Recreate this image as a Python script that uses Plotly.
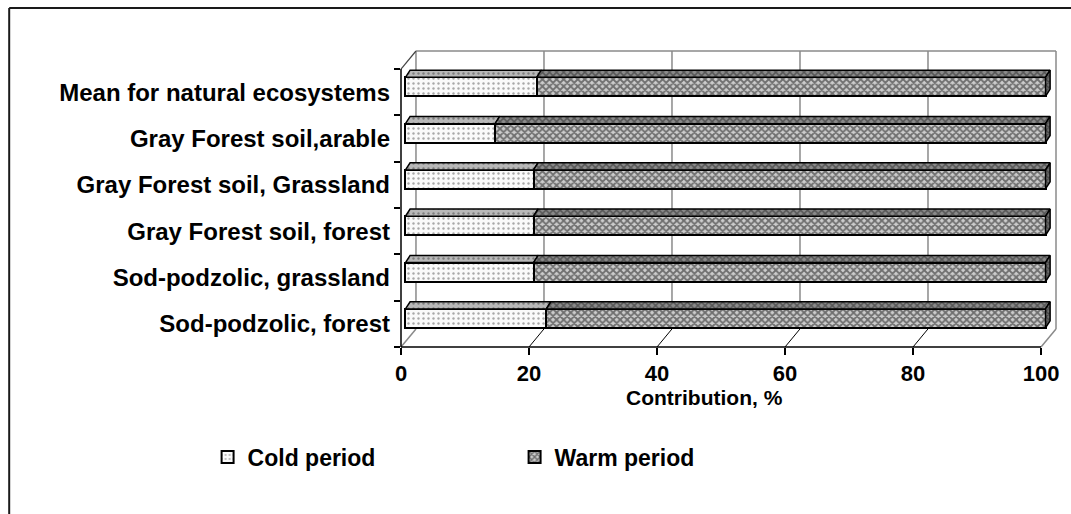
import plotly.graph_objects as go

# data, bottom row first
categories = [
    "Sod-podzolic, forest",
    "Sod-podzolic, grassland",
    "Gray Forest soil, forest",
    "Gray Forest soil, Grassland",
    "Gray Forest soil,arable",
    "Mean for natural ecosystems",
]
cold_period = [22, 20, 20, 20, 14, 20.5]
warm_period = [78, 80, 80, 80, 86, 79.5]
x_ticks = [0, 20, 40, 60, 80, 100]

# fake 3-D geometry, in data units (x: percent, y: category rows)
DEPTH_X, DEPTH_Y = 2.34, 0.39      # depth of the floor / walls
BAR_FRONT = 0.3                    # share of the depth in front of the bars
BAR_DX, BAR_DY = 0.72, 0.155       # depth of the bars themselves
BAR_W = 0.41
X_MAX = 100

fx, fy = -BAR_FRONT * DEPTH_X, -BAR_FRONT * DEPTH_Y            # front plane shift
bx, by = (1 - BAR_FRONT) * DEPTH_X, (1 - BAR_FRONT) * DEPTH_Y  # back plane shift

rows = list(range(len(categories)))
y_lo, y_hi = -0.5, len(categories) - 0.5
x_range = [0 + fx, X_MAX + bx]
y_range = [y_lo + fy, y_hi + by]

W, H = 1071, 514
ML, MT, PW, PH = 401, 51, 657, 296
MR, MB = W - ML - PW, H - MT - PH


def sx(p):  # figure pixel -> paper x
    return (p - ML) / PW


def sy(p):  # figure pixel -> paper y
    return (MT + PH - p) / PH


cold_front = dict(shape=".", fgcolor="#555555", bgcolor="#fafafa", size=5, solidity=0.18)
warm_front = dict(shape="x", fgcolor="#111111", bgcolor="#cccccc", size=5, solidity=0.6)
cold_top = dict(shape=".", fgcolor="#444444", bgcolor="#b8b8b8", size=5, solidity=0.18)
warm_top = dict(shape="x", fgcolor="#222222", bgcolor="#8a8a8a", size=5, solidity=0.5)
warm_side = dict(shape="x", fgcolor="#111111", bgcolor="#6e6e6e", size=4, solidity=0.5)

fig = go.Figure()

fig.add_trace(go.Bar(
    y=rows, x=cold_period, orientation="h", name="Cold period", width=BAR_W,
    marker=dict(color="#fafafa", pattern=cold_front, line=dict(color="black", width=2)),
))
fig.add_trace(go.Bar(
    y=rows, x=warm_period, base=cold_period, orientation="h", name="Warm period", width=BAR_W,
    marker=dict(color="#cccccc", pattern=warm_front, line=dict(color="black", width=2)),
))


def faces(x0s, x1s, side=False):
    xs, ys = [], []
    for r, a, b in zip(rows, x0s, x1s):
        top, bot = r + BAR_W / 2, r - BAR_W / 2
        if side:
            xs += [b, b, b + BAR_DX, b + BAR_DX, b, None]
            ys += [bot, top, top + BAR_DY, bot + BAR_DY, bot, None]
        else:
            xs += [a, b, b + BAR_DX, a + BAR_DX, a, None]
            ys += [top, top, top + BAR_DY, top + BAR_DY, top, None]
    return xs, ys


ends = [c + w for c, w in zip(cold_period, warm_period)]
for (xs, ys), pat in [
    (faces([0] * len(rows), cold_period), cold_top),
    (faces(cold_period, ends), warm_top),
    (faces(cold_period, ends, side=True), warm_side),
]:
    fig.add_trace(go.Scatter(
        x=xs, y=ys, mode="lines", fill="toself", fillcolor=pat["bgcolor"], fillpattern=pat,
        line=dict(color="black", width=1.5), showlegend=False, hoverinfo="skip",
    ))


# walls and floor as unclipped paper shapes
def px(x):
    return (x - x_range[0]) / (x_range[1] - x_range[0])


def py(y):
    return (y - y_range[0]) / (y_range[1] - y_range[0])


def seg(x0, y0, x1, y1, color, width, layer="below"):
    fig.add_shape(type="line", xref="paper", yref="paper", layer=layer,
                  x0=x0, y0=y0, x1=x1, y1=y1, line=dict(color=color, width=width))


def dseg(x0, y0, x1, y1, color, width):
    seg(px(x0), py(y0), px(x1), py(y1), color, width)


grey = "#8a8a8a"
for v in x_ticks:
    dseg(v + bx, y_lo + by, v + bx, y_hi + by, grey, 1.5)          # back wall grid
    edge = v in (x_ticks[0], x_ticks[-1])
    dseg(v + fx, y_lo + fy, v + bx, y_lo + by, grey if edge else "black", 1.5 if edge else 1)
dseg(0 + bx, y_hi + by, X_MAX + bx, y_hi + by, grey, 1.5)           # top of back wall
dseg(0 + fx, y_hi + fy, 0 + bx, y_hi + by, "#444444", 1.2)           # top of left wall
dseg(0 + fx, y_lo + fy, 0 + fx, y_hi + fy, "black", 1.5)             # value axis line (left)
dseg(0 + fx, y_lo + fy, X_MAX + fx, y_lo + fy, "black", 1.5)         # category floor line

# outer frame: only top and left edges are in view
seg(sx(8), sy(8), sx(W + 20), sy(8), "#1a1a1a", 2, "above")
seg(sx(8), sy(8), sx(8), sy(H + 20), "#1a1a1a", 2, "above")

fig.add_annotation(
    text="Contribution, %", xref="paper", yref="paper", x=sx(705), y=sy(397),
    showarrow=False, xanchor="center", yanchor="middle",
    font=dict(family="Liberation Sans, Arial", size=21, color="black", weight="bold"),
)

bold = dict(family="Liberation Sans, Arial", size=24, color="black", weight="bold")
fig.update_layout(
    width=W, height=H,
    margin=dict(l=ML, r=MR, t=MT, b=MB),
    paper_bgcolor="white", plot_bgcolor="white",
    barmode="stack", bargap=0,
    showlegend=True,
    legend=dict(orientation="h", x=sx(207), y=sy(457),
                xanchor="left", yanchor="middle", font=dict(bold, size=23),
                entrywidth=262, entrywidthmode="pixels", traceorder="normal"),
    xaxis=dict(range=x_range, showgrid=False, zeroline=False, showline=False,
               tickmode="array", tickvals=[v + fx for v in x_ticks], ticktext=[str(v) for v in x_ticks],
               ticks="outside", ticklen=7, tickwidth=1.5, tickcolor="black",
               tickfont=dict(bold, size=22), ticklabelstandoff=0),
    yaxis=dict(range=y_range, showgrid=False, zeroline=False, showline=False,
               tickmode="array", tickvals=[r + fy for r in rows], ticktext=categories,
               ticks="", tickfont=bold, ticklabelstandoff=10,
               minor=dict(tickmode="array", tickvals=[r - 0.5 + fy for r in rows + [len(rows)]],
                          ticks="outside", ticklen=6, tickwidth=1.5, tickcolor="black", showgrid=False)),
)

# drop the default page margin so the figure fills the window exactly
fig.write_html("out.html", config={"displayModeBar": False},
               post_script="document.body.style.margin='0';document.body.style.overflow='hidden';")
